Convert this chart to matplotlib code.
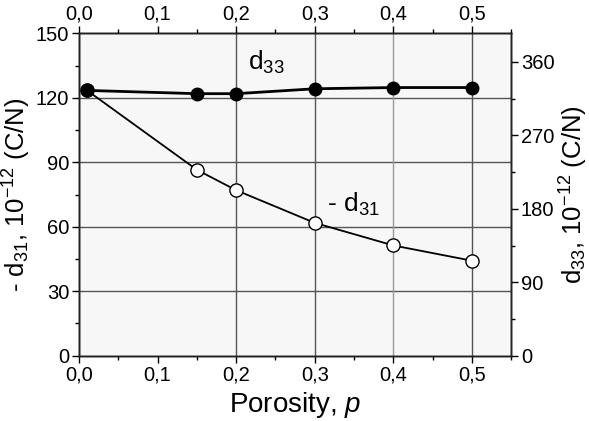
import matplotlib
matplotlib.use('Agg')
import matplotlib.pyplot as plt
from matplotlib.ticker import MultipleLocator, FuncFormatter

plt.rcParams['font.family'] = ['Liberation Sans', 'DejaVu Sans']
plt.rcParams['mathtext.fontset'] = 'custom'
plt.rcParams['mathtext.rm'] = 'Liberation Sans'
plt.rcParams['mathtext.it'] = 'Liberation Sans:italic'

porosity = [0.01, 0.15, 0.2, 0.3, 0.4, 0.5]
d31Neg = [123.5, 86.5, 77.0, 61.8, 51.3, 44.2]
d33 = [325.0, 321.0, 321.0, 327.0, 328.5, 328.5]

gridY = [30, 60, 90, 120]
gridX = [0.2, 0.3, 0.4, 0.5]
gridXColors = ['#555555', '#555555', '#9a9a9a', '#555555']

leftMax = 150
rightMax = 395

commaFormat = FuncFormatter(lambda v, pos: '{:.1f}'.format(v).replace('.', ','))

fig = plt.figure(figsize=(5.89, 4.21), dpi=100)
ax = fig.add_axes([0.134, 0.155, 0.734, 0.766])
ax.set_facecolor('#f7f7f7')
axRight = ax.twinx()
axTop = ax.twiny()

for y in gridY:
    ax.axhline(y, color='#555555', lw=1.0, zorder=1)
for x, c in zip(gridX, gridXColors):
    ax.axvline(x, color=c, lw=1.0, zorder=1)

ax.plot(porosity, d31Neg, color='black', lw=1.3, marker='o', markersize=9.5,
        markerfacecolor='white', markeredgecolor='black', markeredgewidth=1.0, zorder=3)
axRight.plot(porosity, d33, color='black', lw=2.0, marker='o', markersize=9,
             markerfacecolor='black', markeredgecolor='black', zorder=3)

ax.set_xlim(0, 0.55)
ax.set_ylim(0, leftMax)
axRight.set_ylim(0, rightMax)
axTop.set_xlim(0, 0.55)

ax.xaxis.set_major_locator(MultipleLocator(0.1))
ax.xaxis.set_minor_locator(MultipleLocator(0.05))
ax.xaxis.set_major_formatter(commaFormat)
axTop.xaxis.set_major_locator(MultipleLocator(0.1))
axTop.xaxis.set_minor_locator(MultipleLocator(0.05))
axTop.xaxis.set_major_formatter(commaFormat)
ax.yaxis.set_major_locator(MultipleLocator(30))
ax.yaxis.set_minor_locator(MultipleLocator(15))
axRight.yaxis.set_major_locator(MultipleLocator(90))
axRight.yaxis.set_minor_locator(MultipleLocator(45))

for a in (ax, axRight, axTop):
    a.tick_params(which='major', direction='out', length=5, width=1.0, labelsize=14.5, pad=2)
    a.tick_params(which='minor', direction='out', length=3, width=1.0)
    for s in a.spines.values():
        s.set_linewidth(1.0)
        s.set_color('#222222')

ax.set_xlabel('Porosity, $\\mathit{p}$', fontsize=20, labelpad=4)
ax.set_ylabel('- d$_{31}$, 10$^{-12}$ (C/N)', fontsize=18.5, labelpad=2)
axRight.set_ylabel('d$_{33}$, 10$^{-12}$ (C/N)', fontsize=18.5, labelpad=2)

ax.text(0.215, 133, 'd$_{33}$', fontsize=19, va='baseline', ha='left')
ax.text(0.316, 67, '- d$_{31}$', fontsize=19, va='baseline', ha='left')

fig.savefig('out.png', dpi=100)
